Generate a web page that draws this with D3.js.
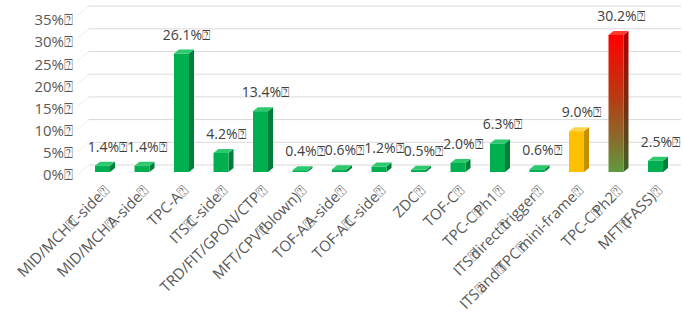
<!DOCTYPE html>
<html><head><meta charset="utf-8">
<script src="https://cdn.jsdelivr.net/npm/d3@7"></script>
<style>body{margin:0;background:#fff;} text{font-family:"Open Sans",Lato,sans-serif;}</style>
</head><body>
<svg id="c" width="683" height="315"></svg>
<script>
const categories = ["MID/MCH C-side","MID/MCH A-side","TPC-A","ITS C-side","TRD/FIT/GPON/CTP","MFT/CPV (blown)","TOF-A A-side","TOF-A C-side","ZDC","TOF-C","TPC-C Ph1","ITS direct trigger","ITS and TPC mini-frame","TPC-C Ph2","MFT (FASS)"];
const values = [1.4,1.4,26.1,4.2,13.4,0.4,0.6,1.2,0.5,2.0,6.3,0.6,9.0,30.2,2.5];
const barKinds = ["g","g","g","g","g","g","g","g","g","g","g","g","y","r","g"];
const yTicks = [0,5,10,15,20,25,30,35];
const BOX = "\u2370";

const svg = d3.select("#c");
const defs = svg.append("defs");
const gr = defs.append("linearGradient").attr("id","redF").attr("x1",0).attr("y1",0).attr("x2",0).attr("y2",1);
gr.append("stop").attr("offset","0%").attr("stop-color","#ff0000");
gr.append("stop").attr("offset","45%").attr("stop-color","#b83a14");
gr.append("stop").attr("offset","75%").attr("stop-color","#8a6a2c");
gr.append("stop").attr("offset","100%").attr("stop-color","#5f9a3e");
const gs = defs.append("linearGradient").attr("id","redS").attr("x1",0).attr("y1",0).attr("x2",0).attr("y2",1);
gs.append("stop").attr("offset","0%").attr("stop-color","#b00000");
gs.append("stop").attr("offset","50%").attr("stop-color","#7a2a10");
gs.append("stop").attr("offset","100%").attr("stop-color","#3e6428");

const palette = {
  g:{front:"#00b050", top:"#2cc96e", side:"#007f3a"},
  y:{front:"#ffc000", top:"#ffd44d", side:"#c49000"},
  r:{front:"url(#redF)", top:"#ff3a2a", side:"url(#redS)"}
};

const x = d3.scalePoint().domain(categories).range([102.5, 655.5]);
const K = 4.54;
const y0 = 172;
const yFront = d3.scaleLinear().domain([0,35]).range([y0, y0-35*K]);
const yBack = d3.scaleLinear().domain([0,35]).range([y0-7, y0-7-35*K]);
const yLab = d3.scaleLinear().domain([0,35]).range([175,20]);
const bw = 15, dx = 5, dy = 4;

// gridlines on back wall
const grid = svg.append("g");
yTicks.forEach(t=>{
  grid.append("line").attr("x1",89).attr("x2",681).attr("y1",yBack(t)).attr("y2",yBack(t))
    .attr("stroke","#d9d9d9").attr("stroke-width",1);
  grid.append("line").attr("x1",78).attr("x2",89).attr("y1",yFront(t)+2).attr("y2",yBack(t))
    .attr("stroke","#e6e6e6").attr("stroke-width",1).attr("stroke-dasharray","2,1");
});

// y axis
const ax = svg.append("g").attr("transform","translate(73,0)")
  .call(d3.axisLeft(yLab).tickValues(yTicks).tickSize(0).tickPadding(0).tickFormat(d=>d+"%"+BOX));
ax.select(".domain").remove();
ax.selectAll("text").attr("fill","#595959").style("font-size","15px").style("font-family","'Open Sans'");

// bars
const bars = svg.append("g");
categories.forEach((c,i)=>{
  const v = values[i], p = palette[barKinds[i]];
  const cx = x(c), l = cx-bw/2, r = cx+bw/2, t = yFront(v);
  bars.append("polygon").attr("points",[[r,t],[r+dx,t-dy],[r+dx,y0-dy],[r,y0]].join(" ")).attr("fill",p.side);
  bars.append("rect").attr("x",l).attr("y",t).attr("width",bw).attr("height",y0-t).attr("fill",p.front);
  bars.append("polygon").attr("points",[[l,t],[l+dx,t-dy],[r+dx,t-dy],[r,t]].join(" ")).attr("fill",p.top);
  svg.append("text").attr("x",cx+5).attr("y",t-14).attr("text-anchor","middle")
    .attr("fill","#404040").style("font-size","14px").text(d3.format(".1f")(v)+"%"+BOX);
});

// category labels
categories.forEach((c,i)=>{
  const g = svg.append("g").attr("transform",`translate(${x(c)+4},188) rotate(-45)`);
  const tx = g.append("text").attr("text-anchor","end").attr("dy","0.35em")
    .attr("fill","#595959").style("font-size","15px");
  const parts = c.split(" ");
  parts.forEach((pt,j)=>{
    const ts = tx.append("tspan").text(pt);
    if(j>0) ts.attr("dx","-0.45em");
    tx.append("tspan").attr("fill","#595959").text(BOX);
  });
});
</script>
</body></html>
